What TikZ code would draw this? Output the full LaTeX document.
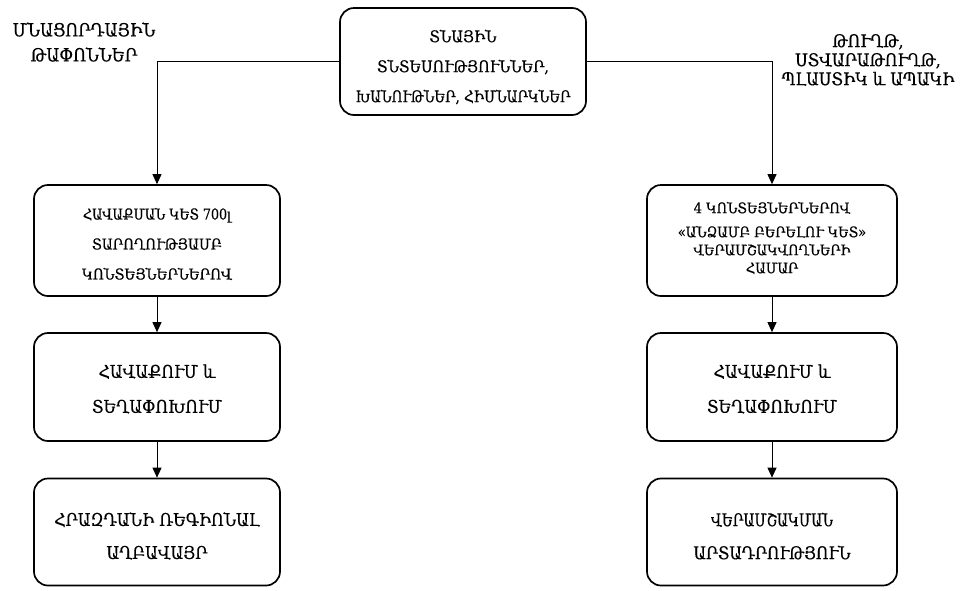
\documentclass[tikz,border=0pt]{standalone}
\usepackage{fontspec}
\setmainfont{DejaVu Serif}[FakeStretch=0.9, FakeBold=0.4]
\usetikzlibrary{arrows.meta}
\newcommand{\sqz}[2]{\resizebox{#1}{\height}{#2}}
\begin{document}
\begin{tikzpicture}[x=1pt,y=-1pt,
  box/.style={draw, line width=1.7pt, rounded corners=14pt, inner sep=0pt},
  txt/.style={align=center, inner sep=0pt},
  arr/.style={-{Triangle[length=10pt,width=9pt]}, line width=1pt}]
\useasboundingbox (0,0) rectangle (968,590);
% boxes
\node[box, minimum width=246, minimum height=107] (top) at (463,61.5) {};
\node[box, minimum width=246, minimum height=111] (l1) at (157,240.5) {};
\node[box, minimum width=246, minimum height=108] (l2) at (157,387) {};
\node[box, minimum width=246, minimum height=107] (l3) at (157,532) {};
\node[box, minimum width=250, minimum height=111] (r1) at (772,240.5) {};
\node[box, minimum width=250, minimum height=108] (r2) at (772,387) {};
\node[box, minimum width=250, minimum height=107] (r3) at (772,532) {};
% texts
\node[txt, font=\fontsize{16}{30}\selectfont] (ttop) at (463,67)
  {ՏՆԱՅԻՆ\\ՏՆՏԵՍՈՒԹՅՈՒՆՆԵՐ,\\\sqz{215pt}{ԽԱՆՈՒԹՆԵՐ, ՀԻՄՆԱՐԿՆԵՐ}};
\node[txt, font=\fontsize{15}{30}\selectfont] (tl1) at (157,244)
  {\sqz{148pt}{ՀԱՎԱՔՄԱՆ ԿԵՏ 700լ}\\ՏԱՐՈՂՈՒԹՅԱՄԲ\\\sqz{150pt}{ԿՈՆՏԵՅՆԵՐՆԵՐՈՎ}};
\node[txt, font=\fontsize{17.5}{35}\selectfont] (tl2) at (157,389)
  {ՀԱՎԱՔՈՒՄ և\\ՏԵՂԱՓՈԽՈՒՄ};
\node[txt, font=\fontsize{17.5}{33}\selectfont] (tl3) at (157,536)
  {ՀՐԱԶԴԱՆԻ ՌԵԳԻՈՆԱԼ\\ԱՂԲԱՎԱՅՐ};
\node[txt, font=\fontsize{14.5}{18}\selectfont] (tr1) at (772,238)
  {4 ԿՈՆՏԵՅՆԵՐՆԵՐՈՎ\\[6pt]«ԱՆՁԱՄԲ ԲԵՐԵԼՈՒ ԿԵՏ»\\ՎԵՐԱՄՇԱԿՎՈՂՆԵՐԻ\\ՀԱՄԱՐ};
\node[txt, font=\fontsize{17.5}{35}\selectfont] (tr2) at (772,389)
  {ՀԱՎԱՔՈՒՄ և\\ՏԵՂԱՓՈԽՈՒՄ};
\node[txt, font=\fontsize{17.5}{33}\selectfont] (tr3) at (772,536)
  {\sqz{122pt}{ՎԵՐԱՄՇԱԿՄԱՆ}\\\sqz{157pt}{ԱՐՏԱԴՐՈՒԹՅՈՒՆ}};
% labels
\node[txt, font=\fontsize{18}{25}\selectfont] (lab1) at (84,42) {ՄՆԱՑՈՐԴԱՅԻՆ\\ԹԱՓՈՆՆԵՐ};
\node[txt, font=\fontsize{17.5}{19}\selectfont] (lab2) at (868,60) {ԹՈՒՂԹ,\\ՍՏՎԱՐԱԹՈՒՂԹ,\\ՊԼԱՍՏԻԿ և ԱՊԱԿԻ};
% connectors
\draw[arr] (top.west) -| (l1.north);
\draw[arr] (top.east) -| (r1.north);
\draw[arr] (l1) -- (l2);
\draw[arr] (l2) -- (l3);
\draw[arr] (r1) -- (r2);
\draw[arr] (r2) -- (r3);
\end{tikzpicture}
\end{document}
